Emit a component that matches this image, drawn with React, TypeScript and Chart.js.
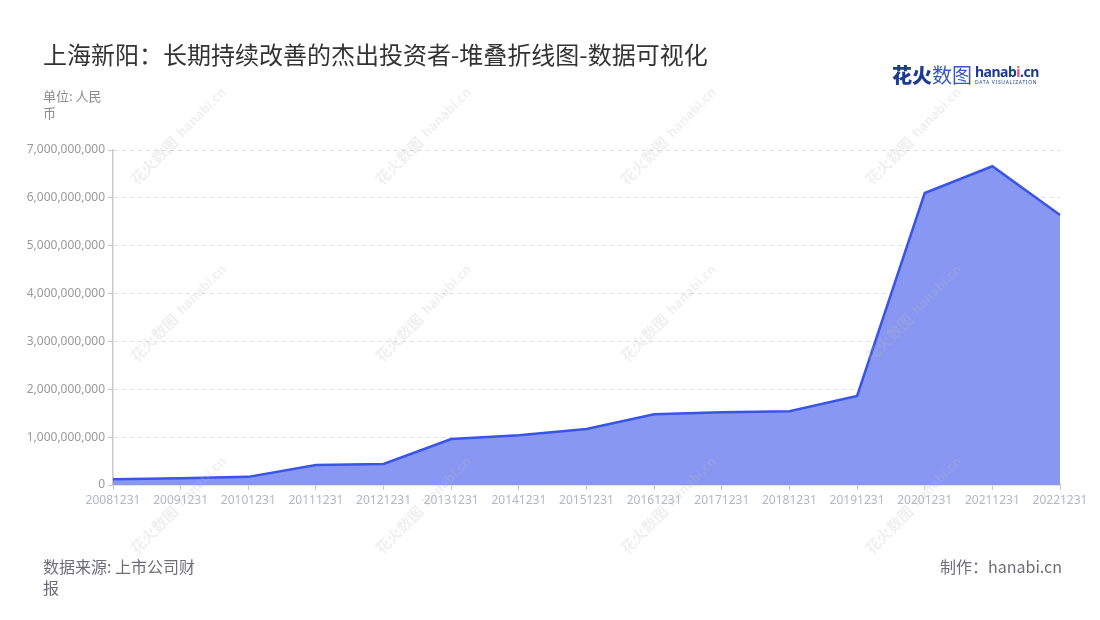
import React, { useEffect, useRef } from "react";
import { Chart, registerables } from "chart.js";

Chart.register(...registerables);

const categories = [
  "20081231", "20091231", "20101231", "20111231", "20121231",
  "20131231", "20141231", "20151231", "20161231", "20171231",
  "20181231", "20191231", "20201231", "20211231", "20221231",
];

const investorValues = [
  120000000, 140000000, 170000000, 420000000, 440000000,
  960000000, 1040000000, 1170000000, 1480000000, 1520000000,
  1540000000, 1860000000, 6100000000, 6660000000, 5640000000,
];

const yTicks = [0, 1000000000, 2000000000, 3000000000, 4000000000, 5000000000, 6000000000, 7000000000];

const titleText = "上海新阳：长期持续改善的杰出投资者-堆叠折线图-数据可视化";
const unitLines = ["单位: 人民", "币"];
const sourceLines = ["数据来源: 上市公司财", "报"];
const creditText = "制作：hanabi.cn";

const FONT = "'Noto Sans', 'Noto Sans CJK SC', sans-serif";
const CJK = "'Noto Sans CJK SC', 'Noto Sans', sans-serif";

const wmCols = [185, 430, 675, 920];
const wmRows = [128, 305, 497];

function Watermark({ cx, cy }: { cx: number; cy: number }) {
  return (
    <div
      style={{
        position: "absolute",
        left: cx - 75,
        top: cy - 10,
        width: 150,
        height: 20,
        transform: "rotate(-45deg)",
        color: "rgba(185,185,185,0.22)",
        fontFamily: CJK,
        fontWeight: 700,
        fontSize: 15,
        whiteSpace: "nowrap",
        display: "flex",
        alignItems: "center",
        pointerEvents: "none",
      }}
    >
      <span>花火数图</span>
      <span style={{ fontSize: 13, marginLeft: 6, fontFamily: FONT }}>hanabi.cn</span>
    </div>
  );
}

export default function App() {
  const canvasRef = useRef<HTMLCanvasElement | null>(null);

  useEffect(() => {
    document.body.style.margin = "0";
    const canvas = canvasRef.current;
    if (!canvas) return;
    const chart = new Chart(canvas, {
      type: "line",
      data: {
        labels: categories,
        datasets: [
          {
            label: "杰出投资者",
            data: investorValues,
            borderColor: "#3a54e8",
            backgroundColor: "#8797f2",
            borderWidth: 2.5,
            fill: "origin",
            pointRadius: 0,
            pointHoverRadius: 0,
            tension: 0,
          },
        ],
      },
      options: {
        responsive: false,
        animation: false,
        layout: { padding: { left: 0, right: 40, top: 150, bottom: 105 } },
        plugins: {
          legend: { display: false },
          tooltip: { enabled: false },
          title: { display: false },
        },
        scales: {
          x: {
            offset: false,
            afterFit: (s: any) => {
              s.height = 30;
            },
            grid: {
              drawOnChartArea: false,
              drawTicks: true,
              tickLength: 5,
              tickColor: "#c8c8c8",
            },
            border: { display: true, color: "#c8c8c8", width: 1.5 },
            ticks: {
              autoSkip: false,
              maxRotation: 0,
              minRotation: 0,
              padding: 3,
              color: "#b3b6c4",
              font: { family: FONT, size: 12 },
            },
          },
          y: {
            min: 0,
            max: 7000000000,
            afterFit: (s: any) => {
              s.width = 113;
            },
            afterBuildTicks: (s: any) => {
              s.ticks = yTicks.map((v) => ({ value: v }));
            },
            grid: {
              color: (ctx: any) => (ctx.tick && ctx.tick.value === 0 ? "rgba(0,0,0,0)" : "#dcdcdc"),
              tickColor: "#c8c8c8",
              tickLength: 5,
              tickBorderDash: [],
              lineWidth: 1,
            },
            border: { display: true, color: "#c8c8c8", width: 1.5, dash: [4, 4] },
            ticks: {
              padding: 3,
              color: "#9a9a9a",
              font: { family: FONT, size: 12 },
              callback: (v: any) => Number(v).toLocaleString("en-US"),
            },
          },
        },
      },
    });
    return () => chart.destroy();
  }, []);

  return (
    <div style={{ position: "relative", width: 1100, height: 620, background: "#fff", overflow: "hidden" }}>
      <canvas ref={canvasRef} width={1100} height={620} style={{ position: "absolute", left: 0, top: 0 }} />
      <div
        style={{
          position: "absolute",
          left: 43,
          top: 39,
          fontFamily: CJK,
          fontSize: 24,
          color: "#333",
          whiteSpace: "nowrap",
          lineHeight: "30px",
        }}
      >
        {titleText}
      </div>
      <div
        style={{
          position: "absolute",
          left: 43,
          top: 87,
          fontFamily: CJK,
          fontSize: 13,
          color: "#8a8a93",
          lineHeight: "17px",
        }}
      >
        {unitLines.map((l, i) => (
          <div key={i}>{l}</div>
        ))}
      </div>
      <div
        style={{
          position: "absolute",
          left: 43,
          top: 556,
          fontFamily: CJK,
          fontSize: 16,
          color: "#6e6e78",
          lineHeight: "21px",
        }}
      >
        {sourceLines.map((l, i) => (
          <div key={i}>{l}</div>
        ))}
      </div>
      <div
        style={{
          position: "absolute",
          right: 38,
          top: 556,
          fontFamily: CJK,
          fontSize: 16,
          color: "#6e6e78",
          lineHeight: "21px",
          whiteSpace: "nowrap",
        }}
      >
        {creditText}
      </div>
      <div
        style={{
          position: "absolute",
          left: 892,
          top: 60,
          display: "flex",
          alignItems: "center",
          whiteSpace: "nowrap",
        }}
      >
        <span style={{ fontFamily: CJK, fontSize: 20, color: "#1d3c8f", fontWeight: 900 }}>花火</span>
        <span style={{ fontFamily: CJK, fontSize: 20, color: "#3a5bb5", fontWeight: 400 }}>数图</span>
        <div style={{ marginLeft: 3, display: "flex", flexDirection: "column", lineHeight: 1 }}>
          <span style={{ fontFamily: FONT, fontSize: 14, fontWeight: 700, color: "#1d3c8f", letterSpacing: -0.5 }}>
            hanab<span style={{ color: "#e0507a" }}>i</span>.cn
          </span>
          <span style={{ fontFamily: FONT, fontSize: 5, color: "#1d3c8f", letterSpacing: 0.7, marginTop: 1 }}>
            DATA VISUALIZATION
          </span>
        </div>
      </div>
      {wmRows.map((r) =>
        wmCols.map((c) => <Watermark key={`${r}-${c}`} cx={c} cy={r} />)
      )}
    </div>
  );
}
